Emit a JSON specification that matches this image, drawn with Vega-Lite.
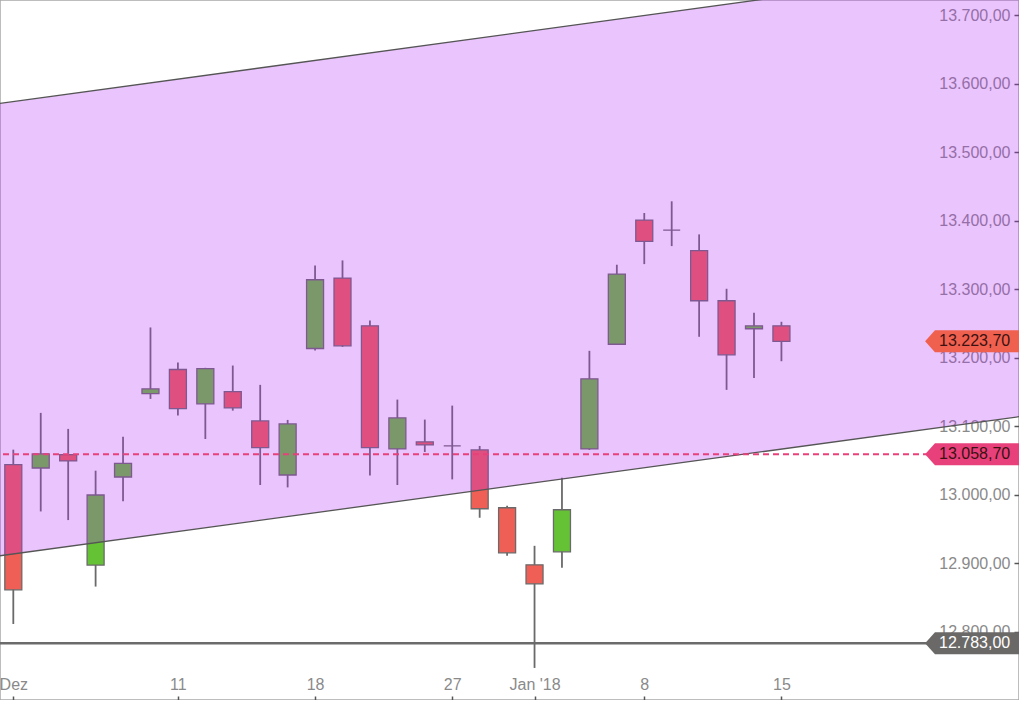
{
  "$schema": "https://vega.github.io/schema/vega-lite/v6.json",
  "width": 1019,
  "height": 700,
  "autosize": {"type": "none"},
  "padding": 0,
  "background": "white",
  "config": {
    "view": {"stroke": "#a8a8a8", "strokeWidth": 1.5},
    "font": "Liberation Sans",
    "axis": {"title": null, "domain": false, "grid": false, "tickColor": "#555555", "tickWidth": 1.5, "labelColor": "#8a8a8a", "labelFontSize": 16, "labelFont": "Liberation Sans"}
  },
  "datasets": {
    "candles": [
      {"t": 0, "d": "2017-12-01", "o": 13043.6, "h": 13065.5, "l": 12811.0, "c": 12860.8},
      {"t": 1, "d": "2017-12-04", "o": 13038.7, "h": 13119.2, "l": 12975.3, "c": 13059.2},
      {"t": 2, "d": "2017-12-05", "o": 13058.2, "h": 13095.8, "l": 12962.7, "c": 13049.0},
      {"t": 3, "d": "2017-12-06", "o": 12897.0, "h": 13034.8, "l": 12865.6, "c": 12999.3},
      {"t": 4, "d": "2017-12-07", "o": 13025.6, "h": 13084.5, "l": 12990.0, "c": 13045.5},
      {"t": 5, "d": "2017-12-08", "o": 13147.4, "h": 13243.9, "l": 13139.6, "c": 13154.2},
      {"t": 6, "d": "2017-12-11", "o": 13182.5, "h": 13192.7, "l": 13115.2, "c": 13125.4},
      {"t": 7, "d": "2017-12-12", "o": 13132.3, "h": 13185.0, "l": 13081.1, "c": 13183.9},
      {"t": 8, "d": "2017-12-13", "o": 13150.3, "h": 13188.3, "l": 13122.5, "c": 13126.5},
      {"t": 9, "d": "2017-12-14", "o": 13107.5, "h": 13160.1, "l": 13013.9, "c": 13068.4},
      {"t": 10, "d": "2017-12-15", "o": 13028.5, "h": 13108.9, "l": 13010.4, "c": 13103.1},
      {"t": 11, "d": "2017-12-18", "o": 13213.2, "h": 13334.5, "l": 13210.2, "c": 13313.6},
      {"t": 12, "d": "2017-12-19", "o": 13316.0, "h": 13341.8, "l": 13215.6, "c": 13217.1},
      {"t": 13, "d": "2017-12-20", "o": 13246.3, "h": 13254.1, "l": 13027.9, "c": 13068.4},
      {"t": 14, "d": "2017-12-21", "o": 13066.5, "h": 13138.6, "l": 13013.9, "c": 13111.8},
      {"t": 15, "d": "2017-12-22", "o": 13076.8, "h": 13109.4, "l": 13062.1, "c": 13072.4},
      {"t": 16, "d": "2017-12-27", "o": 13070.9, "h": 13129.8, "l": 13022.1, "c": 13070.9},
      {"t": 17, "d": "2017-12-28", "o": 13065.1, "h": 13070.9, "l": 12966.1, "c": 12979.2},
      {"t": 18, "d": "2017-12-29", "o": 12980.7, "h": 12983.6, "l": 12910.5, "c": 12914.9},
      {"t": 19, "d": "2018-01-02", "o": 12897.4, "h": 12925.1, "l": 12746.8, "c": 12869.6},
      {"t": 20, "d": "2018-01-03", "o": 12916.4, "h": 13024.6, "l": 12893.0, "c": 12977.8},
      {"t": 21, "d": "2018-01-04", "o": 13066.5, "h": 13209.8, "l": 13065.1, "c": 13168.9},
      {"t": 22, "d": "2018-01-05", "o": 13219.4, "h": 13335.5, "l": 13219.0, "c": 13321.8},
      {"t": 23, "d": "2018-01-08", "o": 13400.7, "h": 13411.0, "l": 13336.4, "c": 13369.6},
      {"t": 24, "d": "2018-01-09", "o": 13386.1, "h": 13428.1, "l": 13362.7, "c": 13386.1},
      {"t": 25, "d": "2018-01-10", "o": 13356.0, "h": 13379.8, "l": 13230.3, "c": 13282.9},
      {"t": 26, "d": "2018-01-11", "o": 13282.9, "h": 13300.4, "l": 13152.8, "c": 13204.0},
      {"t": 27, "d": "2018-01-12", "o": 13242.0, "h": 13265.4, "l": 13170.3, "c": 13246.3},
      {"t": 28, "d": "2018-01-15", "o": 13246.3, "h": 13252.2, "l": 13194.6, "c": 13223.7}
    ],
    "channel": [
      {"t": -0.5, "lo": 12910.5, "hi": 13570.9},
      {"t": 36.7, "lo": 13113.9, "hi": 13774.3}
    ],
    "levels": [
      {"kind": "close", "v": 13223.7, "lab": "13.223,70"},
      {"kind": "alert", "v": 13058.7, "lab": "13.058,70"},
      {"kind": "support", "v": 12783.0, "lab": "12.783,00"}
    ]
  },
  "layer": [
    {
      "data": {"name": "levels"},
      "transform": [{"filter": "datum.kind == 'support'"}],
      "mark": {"type": "rule", "color": "#6b6b6b", "strokeWidth": 2.5},
      "encoding": {
        "y": {"field": "v", "type": "quantitative", "scale": {"domain": [12700, 13722], "nice": false, "zero": false},
          "axis": {"orient": "right", "values": [12800, 12900, 13000, 13100, 13200, 13300, 13400, 13500, 13600, 13700],
            "labelExpr": "replace(replace(replace(format(datum.value, ',.2f'), ',', '#'), '.', ','), '#', '.')",
            "tickSize": -5, "labelPadding": -4, "labelAlign": "right", "labelBaseline": "middle"}}
      }
    },
    {
      "data": {"name": "candles"},
      "mark": {"type": "rule", "color": "#6a6a6a", "strokeWidth": 1.8},
      "encoding": {
        "x": {"field": "t", "type": "quantitative", "scale": {"domain": [-0.485, 36.66], "nice": false, "zero": false, "padding": 0},
          "axis": {"orient": "bottom", "values": [0, 6, 11, 16, 19, 23, 28],
            "labelExpr": "datum.value == 0 ? 'Dez' : datum.value == 6 ? '11' : datum.value == 11 ? '18' : datum.value == 16 ? '27' : datum.value == 19 ? \"Jan '18\" : datum.value == 23 ? '8' : '15'",
            "tickSize": -4, "labelPadding": -4, "labelBaseline": "bottom",
            "labelFlush": false, "labelBound": false, "labelOverlap": false}},
        "y": {"field": "l", "type": "quantitative", "scale": {"domain": [12700, 13722], "nice": false, "zero": false}},
        "y2": {"field": "h"}
      }
    },
    {
      "data": {"name": "candles"},
      "mark": {"type": "bar", "width": 17, "stroke": "#6a6a6a", "strokeWidth": 1.3},
      "encoding": {
        "x": {"field": "t", "type": "quantitative", "scale": {"domain": [-0.485, 36.66], "nice": false, "zero": false, "padding": 0}},
        "y": {"field": "o", "type": "quantitative", "scale": {"domain": [12700, 13722], "nice": false, "zero": false}},
        "y2": {"field": "c"},
        "fill": {"condition": {"test": "datum.c >= datum.o", "value": "#66c235"}, "value": "#f05f55"}
      }
    },
    {
      "data": {"name": "channel"},
      "mark": {"type": "area", "color": "#b42cf4", "opacity": 0.28, "clip": true},
      "encoding": {
        "x": {"field": "t", "type": "quantitative", "scale": {"domain": [-0.485, 36.66], "nice": false, "zero": false, "padding": 0}},
        "y": {"field": "lo", "type": "quantitative", "scale": {"domain": [12700, 13722], "nice": false, "zero": false}},
        "y2": {"field": "hi"}
      }
    },
    {
      "data": {"name": "channel"},
      "mark": {"type": "line", "color": "#555555", "strokeWidth": 1.3, "clip": true},
      "encoding": {
        "x": {"field": "t", "type": "quantitative", "scale": {"domain": [-0.485, 36.66], "nice": false, "zero": false, "padding": 0}},
        "y": {"field": "lo", "type": "quantitative", "scale": {"domain": [12700, 13722], "nice": false, "zero": false}}
      }
    },
    {
      "data": {"name": "channel"},
      "mark": {"type": "line", "color": "#555555", "strokeWidth": 1.3, "clip": true},
      "encoding": {
        "x": {"field": "t", "type": "quantitative", "scale": {"domain": [-0.485, 36.66], "nice": false, "zero": false, "padding": 0}},
        "y": {"field": "hi", "type": "quantitative", "scale": {"domain": [12700, 13722], "nice": false, "zero": false}}
      }
    },
    {
      "data": {"name": "levels"},
      "transform": [{"filter": "datum.kind == 'alert'"}],
      "mark": {"type": "rule", "color": "#e8407a", "strokeWidth": 2, "strokeDash": [6, 4]},
      "encoding": {
        "y": {"field": "v", "type": "quantitative", "scale": {"domain": [12700, 13722], "nice": false, "zero": false}}
      }
    },
    {
      "data": {"name": "levels"},
      "mark": {"type": "point", "shape": "M-1,0L-0.79,-0.234L1,-0.234L1,0.234L-0.79,0.234Z", "size": 8836, "filled": true, "opacity": 1, "strokeWidth": 0},
      "encoding": {
        "x": {"datum": 34.95, "type": "quantitative", "scale": {"domain": [-0.485, 36.66], "nice": false, "zero": false, "padding": 0}},
        "y": {"field": "v", "type": "quantitative", "scale": {"domain": [12700, 13722], "nice": false, "zero": false}},
        "fill": {"field": "kind", "type": "nominal", "scale": {"domain": ["close", "alert", "support"], "range": ["#f0604f", "#e8407a", "#6b6967"]}, "legend": null}
      }
    },
    {
      "data": {"name": "levels"},
      "mark": {"type": "text", "align": "right", "baseline": "middle", "fontSize": 16, "font": "Liberation Sans"},
      "encoding": {
        "x": {"datum": 36.34, "type": "quantitative", "scale": {"domain": [-0.485, 36.66], "nice": false, "zero": false, "padding": 0}},
        "y": {"field": "v", "type": "quantitative", "scale": {"domain": [12700, 13722], "nice": false, "zero": false}},
        "text": {"field": "lab"},
        "color": {"field": "kind", "type": "nominal", "scale": {"domain": ["close", "alert", "support"], "range": ["#3a1212", "#3a1212", "#ffffff"]}, "legend": null}
      }
    }
  ]
}
